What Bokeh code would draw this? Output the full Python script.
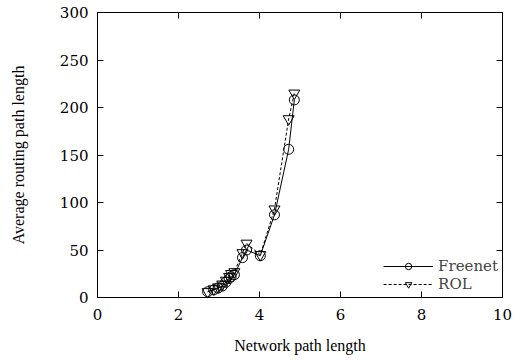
from bokeh.plotting import figure
from bokeh.models import LinearAxis, Range1d, Legend, LegendItem, FixedTicker
from bokeh.embed import file_html
from bokeh.resources import INLINE

freenet_x = [2.72, 2.87, 2.98, 3.08, 3.17, 3.25, 3.30, 3.38, 3.58, 3.68, 4.02, 4.37, 4.72, 4.86]
freenet_y = [6, 8, 10, 12, 16, 20, 22, 24, 42, 50, 44, 87, 156, 208]
rol_x = [2.72, 2.87, 2.98, 3.08, 3.17, 3.25, 3.30, 3.38, 3.58, 3.68, 4.02, 4.37, 4.72, 4.86]
rol_y = [6, 9, 11, 14, 18, 22, 25, 27, 47, 57, 45, 93, 188, 215]
x_ticks = [0, 2, 4, 6, 8, 10]
y_ticks = [0, 50, 100, 150, 200, 250, 300]

FONT = "'Liberation Serif', 'Times New Roman', serif"
TICK_FONT = "DejaVu Serif"

p = figure(width=521, height=362, output_backend="svg", toolbar_location=None,
           x_range=Range1d(0, 10), y_range=Range1d(0, 300),
           min_border_left=97, min_border_right=19, min_border_top=12, min_border_bottom=65)
p.xgrid.visible = False
p.ygrid.visible = False
p.outline_line_color = "black"
p.outline_line_width = 1
p.background_fill_color = "white"
p.border_fill_color = "white"

for ax in (p.xaxis[0], p.yaxis[0]):
    ax.major_tick_in = 6
    ax.major_tick_out = 0
    ax.minor_tick_in = 0
    ax.minor_tick_out = 0
    ax.axis_line_color = "black"
    ax.major_tick_line_color = "black"
    ax.major_label_text_font = TICK_FONT
    ax.major_label_text_font_size = "15px"
    ax.major_label_text_color = "black"
    ax.axis_label_text_font = FONT
    ax.axis_label_text_font_size = "16px"
    ax.axis_label_text_font_style = "normal"
    ax.axis_label_text_color = "black"

p.xaxis[0].ticker = FixedTicker(ticks=x_ticks)
p.yaxis[0].ticker = FixedTicker(ticks=y_ticks)
p.xaxis[0].axis_label = "Network path length"
p.yaxis[0].axis_label = "Average routing path length"
p.xaxis[0].major_label_standoff = 11
p.yaxis[0].major_label_standoff = 9
p.xaxis[0].axis_label_standoff = 14
p.yaxis[0].axis_label_standoff = 30

top = LinearAxis(ticker=FixedTicker(ticks=x_ticks),
                 major_label_overrides={t: "" for t in x_ticks},
                 major_tick_in=6, major_tick_out=0, minor_tick_in=0, minor_tick_out=0,
                 major_label_standoff=0)
right = LinearAxis(ticker=FixedTicker(ticks=y_ticks),
                   major_label_overrides={t: "" for t in y_ticks},
                   major_tick_in=6, major_tick_out=0, minor_tick_in=0, minor_tick_out=0,
                   major_label_standoff=0)
p.add_layout(top, "above")
p.add_layout(right, "right")

l1 = p.line(freenet_x, freenet_y, line_color="black", line_width=1)
m1 = p.scatter(freenet_x, freenet_y, marker="circle", size=10, fill_color=None,
               line_color="black", line_width=1)
l2 = p.line(rol_x, rol_y, line_color="black", line_width=1, line_dash="3 2")
m2 = p.scatter(rol_x, rol_y, marker="inverted_triangle", size=11, fill_color=None,
               line_color="black", line_width=1)

legend = Legend(items=[LegendItem(label="Freenet", renderers=[l1, m1]),
                       LegendItem(label="ROL", renderers=[l2, m2])],
                location="bottom_right", label_text_font=TICK_FONT, label_text_font_size="15px",
                border_line_color=None, background_fill_alpha=0, glyph_width=50,
                label_height=16, glyph_height=16, spacing=0, padding=6, margin=4)
p.add_layout(legend, "center")

open("out.html", "w").write(file_html(p, INLINE))
